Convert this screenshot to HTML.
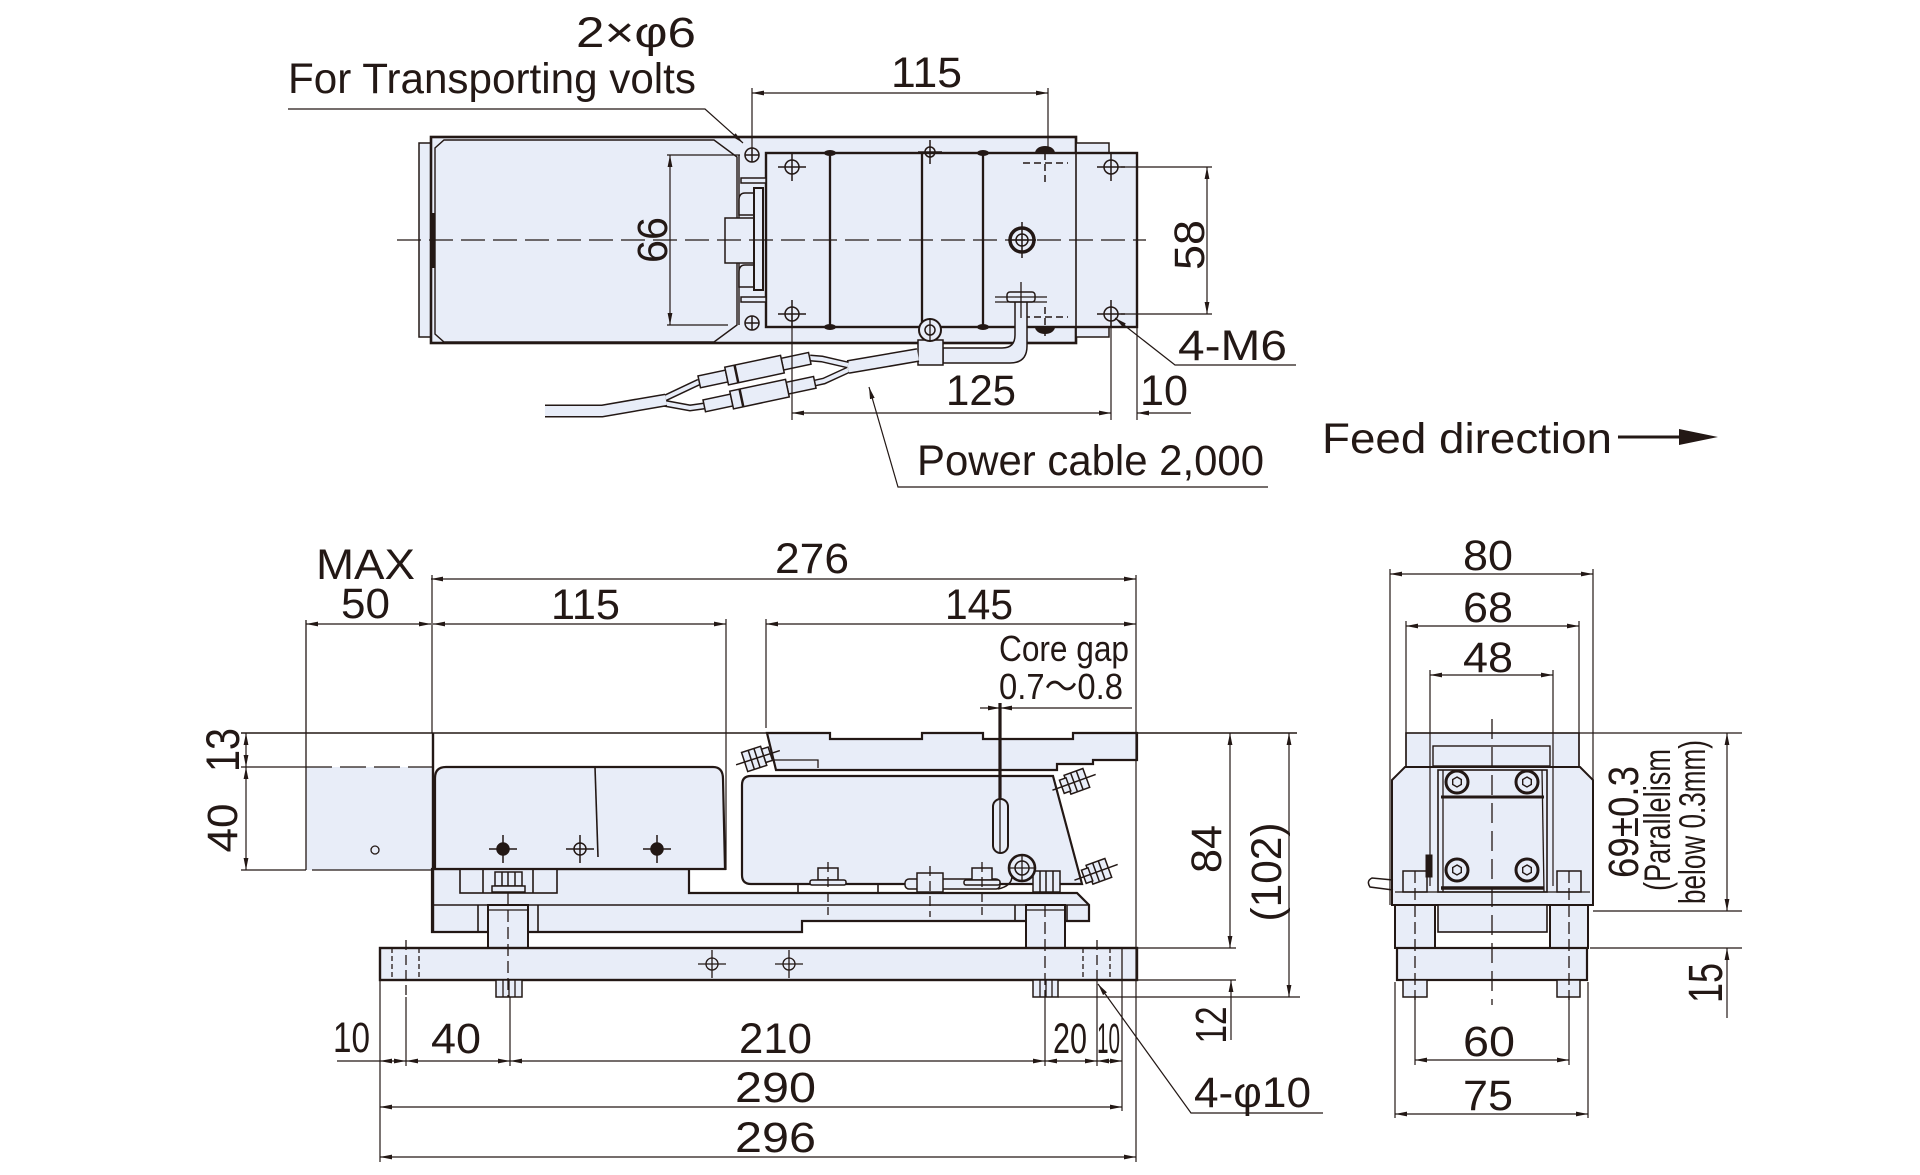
<!DOCTYPE html>
<html><head><meta charset="utf-8"><style>
html,body{margin:0;padding:0;background:#fff;}
svg{display:block;}
text{font-family:"Liberation Sans","Noto Sans CJK JP",sans-serif;fill:#231815;}
</style></head><body>
<svg width="1920" height="1175" viewBox="0 0 1920 1175" xmlns="http://www.w3.org/2000/svg">
<defs>
<marker id="a" viewBox="0 0 12 6" refX="12" refY="3" markerWidth="12" markerHeight="6" orient="auto-start-reverse" markerUnits="userSpaceOnUse"><path d="M0,0.6 L12,3 L0,5.4 Z" fill="#231815"/></marker>
</defs>
<rect width="1920" height="1175" fill="#fff"/>

<!-- ================= TOP VIEW ================= -->
<g fill="#e8edf8" stroke="#231815">
 <rect x="419" y="143" width="12" height="194" stroke-width="1.5"/>
 <rect x="431" y="137" width="645" height="206" stroke-width="2.6"/>
 <path d="M444,140 L714,140 L737,157 L737,325 L714,342 L444,342 L435,334 L435,148 Z" stroke-width="1.4"/>
 <rect x="1076" y="143" width="33" height="194" stroke-width="1.5"/>
 <rect x="766" y="153" width="371" height="174" stroke-width="2.4"/>
</g>
<g stroke="#231815" fill="none">
 <line x1="1076" y1="138" x2="1076" y2="342" stroke-width="1.6"/>
 <line x1="433" y1="213" x2="433" y2="268" stroke-width="4.5"/>
 <line x1="739" y1="155" x2="739" y2="325" stroke-width="1.4"/>
</g>
<!-- connector bits -->
<g fill="#e8edf8" stroke="#231815" stroke-width="1.5">
 <rect x="741" y="178" width="25" height="5"/>
 <rect x="741" y="297" width="25" height="5"/>
 <rect x="725" y="218" width="29" height="45"/>
 <path d="M754,193 L745,193 Q739,193 739,200 L739,215 L754,215 Z"/>
 <path d="M754,265 L745,265 Q739,265 739,272 L739,287 L754,287 Z"/>
 <rect x="754" y="188" width="9" height="102" stroke-width="2"/>
</g>
<!-- center line -->
<line x1="397" y1="240" x2="1146" y2="240" stroke="#231815" stroke-width="1.3" stroke-dasharray="24,8"/>
<!-- plate lines -->
<g stroke="#231815" stroke-width="2.3">
 <line x1="830" y1="153" x2="830" y2="327"/>
 <line x1="922" y1="153" x2="922" y2="327"/>
 <line x1="983" y1="153" x2="983" y2="327"/>
</g>
<g fill="#231815">
 <ellipse cx="830" cy="153" rx="6" ry="3"/><ellipse cx="983" cy="153" rx="6" ry="3"/>
 <ellipse cx="830" cy="327" rx="6" ry="3"/><ellipse cx="983" cy="327" rx="6" ry="3"/>
 <path d="M1035,153 A10,7 0 0 1 1055,153 Z"/>
 <path d="M1035,327 A10,7 0 0 0 1055,327 Z"/>
</g>
<!-- holes -->
<g stroke="#231815" stroke-width="1.5" fill="none">
 <circle cx="792" cy="167" r="7"/><path d="M778,167h28M792,153v28"/>
 <circle cx="1111" cy="167" r="7"/><path d="M1097,167h28M1111,153v28"/>
 <circle cx="792" cy="314" r="7"/><path d="M778,314h28M792,300v28"/>
 <circle cx="1111" cy="314" r="7"/><path d="M1097,314h28M1111,300v28"/>
 <circle cx="752" cy="155" r="7"/><path d="M745,155h14M752,148v14"/>
 <circle cx="752" cy="323" r="7"/><path d="M745,323h14M752,316v14"/>
 <circle cx="930" cy="152" r="5"/><path d="M918,152h24M930,140v24"/>
 <circle cx="1022" cy="240" r="12" stroke-width="3.5"/><circle cx="1022" cy="240" r="6"/><path d="M1022,222v36M1008,240h28"/>
 <path d="M1023,163h45M1045,153v32M1023,317h45M1045,307v33" stroke-dasharray="7,4"/>
</g>
<!-- cable -->
<g stroke="#231815" stroke-width="1.5" fill="#e8edf8">
 <path d="M943,348 L1002,348 Q1015,348 1015,335 L1015,300 L1027,300 L1027,346 Q1027,363 1010,363 L943,363 Z"/>
 <rect x="1007" y="292" width="28" height="10" rx="3"/>
 <rect x="918" y="340" width="25" height="25"/>
 <circle cx="930" cy="330" r="11" stroke-width="2"/>
 <circle cx="930" cy="330" r="5"/>
</g>
<g stroke="#231815" stroke-width="1.3" fill="none">
 <path d="M995,297h52M995,302h52M1021,282v36M930,318v24"/>
</g>
<g fill="none" stroke-linecap="butt">
 <path d="M848,367 L918,355" stroke="#231815" stroke-width="14"/>
 <path d="M848,367 L918,355" stroke="#e8edf8" stroke-width="11"/>
 <path d="M810,358 L822,359 L848,365" stroke="#231815" stroke-width="7"/>
 <path d="M815,383 L824,381 L848,370" stroke="#231815" stroke-width="7"/>
 <path d="M810,358 L822,359 L848,365" stroke="#e8edf8" stroke-width="4"/>
 <path d="M815,383 L824,381 L848,370" stroke="#e8edf8" stroke-width="4"/>
 <path d="M699,382 L663,399" stroke="#231815" stroke-width="7"/>
 <path d="M704,406 L690,408 L663,403" stroke="#231815" stroke-width="7"/>
 <path d="M699,382 L663,399" stroke="#e8edf8" stroke-width="4"/>
 <path d="M704,406 L690,408 L663,403" stroke="#e8edf8" stroke-width="4"/>
 <path d="M666,400 L602,411 L545,411" stroke="#231815" stroke-width="13"/>
 <path d="M666,400 L602,411 L545,411" stroke="#e8edf8" stroke-width="10"/>
</g>
<g transform="translate(755,370) rotate(-12)" fill="#e8edf8" stroke="#231815" stroke-width="1.5">
 <rect x="-57" y="-6" width="28" height="12"/><rect x="28" y="-6" width="28" height="12"/>
 <rect x="-29" y="-9" width="57" height="18"/><line x1="-19" y1="-9" x2="-19" y2="9" stroke-width="2.5"/>
</g>
<g transform="translate(760,394) rotate(-12)" fill="#e8edf8" stroke="#231815" stroke-width="1.5">
 <rect x="-57" y="-6" width="28" height="12"/><rect x="28" y="-6" width="28" height="12"/>
 <rect x="-29" y="-9" width="57" height="18"/><line x1="-19" y1="-9" x2="-19" y2="9" stroke-width="2.5"/>
</g>

<!-- top view dims -->
<g stroke="#231815" stroke-width="1.2" fill="none">
 <line x1="752" y1="88" x2="752" y2="148"/>
 <line x1="1048" y1="88" x2="1048" y2="150"/>
 <line x1="752" y1="93" x2="1048" y2="93" marker-start="url(#a)" marker-end="url(#a)"/>
 <polyline points="288,109 705,109 743,143" marker-end="url(#a)"/>
 <line x1="667" y1="155" x2="740" y2="155"/><line x1="667" y1="325" x2="728" y2="325"/>
 <line x1="670" y1="155" x2="670" y2="325" marker-start="url(#a)" marker-end="url(#a)"/>
 <line x1="1121" y1="167" x2="1212" y2="167"/><line x1="1121" y1="314" x2="1212" y2="314"/>
 <line x1="1207" y1="167" x2="1207" y2="314" marker-start="url(#a)" marker-end="url(#a)"/>
 <polyline points="1296,365 1175,365 1115,318" marker-end="url(#a)"/>
 <line x1="792" y1="314" x2="792" y2="420"/>
 <line x1="1111" y1="320" x2="1111" y2="420"/>
 <line x1="1137" y1="327" x2="1137" y2="420"/>
 <line x1="792" y1="413" x2="1111" y2="413" marker-start="url(#a)" marker-end="url(#a)"/>
 <line x1="1191" y1="413" x2="1137" y2="413" marker-end="url(#a)"/>
 <polyline points="1268,487 898,487 869,387" marker-end="url(#a)"/>
</g>
<line x1="1618" y1="437" x2="1684" y2="437" stroke="#231815" stroke-width="3"/>
<path d="M1679,429 L1718,437 L1679,445 Z" fill="#231815"/>

<!-- top view text -->
<g font-size="43">
 <text x="576" y="47" textLength="120" lengthAdjust="spacingAndGlyphs">2×φ6</text>
 <text x="288" y="93" textLength="408" lengthAdjust="spacingAndGlyphs">For Transporting volts</text>
 <text x="891" y="87" textLength="71" lengthAdjust="spacingAndGlyphs">115</text>
 <text transform="translate(667,240) rotate(-90)" text-anchor="middle" textLength="46" lengthAdjust="spacingAndGlyphs">66</text>
 <text transform="translate(1204,245) rotate(-90)" text-anchor="middle" textLength="50" lengthAdjust="spacingAndGlyphs">58</text>
 <text x="1178" y="360" textLength="109" lengthAdjust="spacingAndGlyphs">4-M6</text>
 <text x="946" y="405" textLength="70" lengthAdjust="spacingAndGlyphs">125</text>
 <text x="1140" y="405" textLength="48" lengthAdjust="spacingAndGlyphs">10</text>
 <text x="917" y="475" textLength="347" lengthAdjust="spacingAndGlyphs">Power cable 2,000</text>
 <text x="1322" y="453" textLength="290" lengthAdjust="spacingAndGlyphs">Feed direction</text>
</g>

<!-- ================= FRONT VIEW ================= -->
<!-- MAX 50 zone -->
<rect x="306" y="767" width="126" height="103" fill="#e8edf8"/>
<g stroke="#231815" fill="none" stroke-width="1.3">
 <line x1="241" y1="767" x2="306" y2="767"/>
 <line x1="306" y1="767" x2="432" y2="767" stroke-dasharray="26,8"/>
 <line x1="241" y1="870" x2="306" y2="870"/>
 <line x1="312" y1="870" x2="432" y2="870"/>
 <line x1="306" y1="620" x2="306" y2="870"/>
 <circle cx="375" cy="850" r="4"/>
</g>
<!-- lower frame -->
<g fill="#e8edf8" stroke="#231815" stroke-width="2.2">
 <path d="M432,869 L689,869 L689,893 L1077,893 L1089,905 L1089,921 L802,921 L802,932 L432,932 Z"/>
</g>
<g stroke="#231815" fill="none" stroke-width="1.6">
 <line x1="432" y1="905" x2="1089" y2="905"/>
 <line x1="1015" y1="905" x2="1015" y2="921"/>
 <line x1="1067" y1="905" x2="1067" y2="921"/>
 <rect x="460" y="869" width="97" height="24" fill="#e8edf8"/>
 <line x1="483" y1="869" x2="483" y2="893"/><line x1="533" y1="869" x2="533" y2="893"/>
 <line x1="478" y1="905" x2="478" y2="932"/><line x1="538" y1="905" x2="538" y2="932"/>
 <line x1="798" y1="884" x2="798" y2="893"/><line x1="878" y1="884" x2="878" y2="893"/>
</g>
<!-- hopper body -->
<path d="M435,869 L435,778 Q435,767 446,767 L713,767 Q723,767 723,779 L725,869 Z" fill="#e8edf8" stroke="#231815" stroke-width="2.2"/>
<line x1="595" y1="767" x2="598" y2="857" stroke="#231815" stroke-width="1.6"/>
<g stroke="#231815" stroke-width="1.5" fill="none">
 <circle cx="503" cy="849" r="6" fill="#231815"/><path d="M489,849h28M503,835v28"/>
 <circle cx="580" cy="849" r="6"/><path d="M566,849h28M580,835v28"/>
 <circle cx="657" cy="849" r="6" fill="#231815"/><path d="M643,849h28M657,835v28"/>
</g>
<!-- nut on left pillar -->
<g fill="#e8edf8" stroke="#231815" stroke-width="1.5">
 <rect x="495" y="872" width="27" height="14"/>
 <rect x="492" y="886" width="33" height="6"/>
 <line x1="502" y1="872" x2="502" y2="886"/><line x1="508" y1="872" x2="508" y2="886"/><line x1="515" y1="872" x2="515" y2="886"/>
</g>
<!-- trough -->
<path d="M767,733 L830,733 L830,739 L922,739 L922,733 L983,733 L983,739 L1073,739 L1073,733 L1137,733 L1137,760 L1093,760 L1093,764 L1057,764 L1057,770 L776,770 Z" fill="#e8edf8" stroke="#231815" stroke-width="2.2"/>
<path d="M773,760 L818,760 L818,768" fill="none" stroke="#231815" stroke-width="1.3"/>
<!-- driver -->
<path d="M751,776 L1053,776 L1082,884 L751,884 Q742,884 742,875 L742,785 Q742,776 751,776 Z" fill="#e8edf8" stroke="#231815" stroke-width="2.2"/>
<!-- driver details -->
<g fill="#e8edf8" stroke="#231815" stroke-width="1.5">
 <rect x="818" y="868" width="20" height="12"/><rect x="810" y="880" width="36" height="5" rx="2"/>
 <rect x="905" y="879" width="95" height="10" rx="4"/>
 <rect x="917" y="873" width="26" height="19"/>
 <rect x="972" y="868" width="20" height="12"/><rect x="964" y="880" width="36" height="5" rx="2"/>
 <rect x="1033" y="871" width="27" height="21"/>
 <line x1="1040" y1="871" x2="1040" y2="892"/><line x1="1046" y1="871" x2="1046" y2="892"/><line x1="1053" y1="871" x2="1053" y2="892"/>
 <path d="M998,889 Q1012,886 1012,876" fill="none"/>
 <circle cx="1022" cy="868" r="13" stroke-width="2.6"/>
 <circle cx="1022" cy="868" r="7"/>
 <rect x="993" y="799" width="15" height="54" rx="7.5" stroke-width="2"/>
</g>
<g stroke="#231815" fill="none" stroke-width="1.3">
 <path d="M1022,856v24M1010,868h24"/>
 <line x1="1000" y1="799" x2="1000" y2="853"/>
 <line x1="828" y1="862" x2="828" y2="915" stroke-dasharray="10,5"/>
 <line x1="982" y1="862" x2="982" y2="915" stroke-dasharray="10,5"/>
 <line x1="930" y1="866" x2="930" y2="917" stroke-dasharray="10,5"/>
</g>
<line x1="1000" y1="703" x2="1000" y2="800" stroke="#231815" stroke-width="3.2"/>
<!-- tilted bolts -->
<g transform="translate(757,758) rotate(-18)" fill="#e8edf8" stroke="#231815" stroke-width="1.5">
 <rect x="-13" y="-10" width="20" height="20"/><rect x="7" y="-7" width="7" height="14"/>
 <line x1="-6" y1="-10" x2="-6" y2="10"/><line x1="0" y1="-10" x2="0" y2="10"/>
 <line x1="-22" y1="0" x2="24" y2="0"/>
</g>
<g transform="translate(1075,782) rotate(-20)" fill="#e8edf8" stroke="#231815" stroke-width="1.5">
 <rect x="-8" y="-10" width="20" height="20"/><rect x="-14" y="-7" width="7" height="14"/>
 <line x1="-1" y1="-10" x2="-1" y2="10"/><line x1="5" y1="-10" x2="5" y2="10"/>
 <line x1="-24" y1="0" x2="22" y2="0"/>
</g>
<g transform="translate(1097,872) rotate(-20)" fill="#e8edf8" stroke="#231815" stroke-width="1.5">
 <rect x="-8" y="-10" width="20" height="20"/><rect x="-14" y="-7" width="7" height="14"/>
 <line x1="-1" y1="-10" x2="-1" y2="10"/><line x1="5" y1="-10" x2="5" y2="10"/>
 <line x1="-24" y1="0" x2="22" y2="0"/>
</g>
<!-- pillars, base plate -->
<g fill="#e8edf8" stroke="#231815" stroke-width="2">
 <rect x="488" y="905" width="40" height="43"/>
 <rect x="1026" y="905" width="39" height="43"/>
 <rect x="380" y="948" width="757" height="32" stroke-width="2.4"/>
 <rect x="496" y="980" width="26" height="17" stroke-width="1.5"/>
 <rect x="1033" y="980" width="25" height="17" stroke-width="1.5"/>
</g>
<g stroke="#231815" fill="none" stroke-width="1.3">
 <line x1="488" y1="910" x2="528" y2="910"/><line x1="1026" y1="910" x2="1065" y2="910"/>
 <line x1="1122" y1="948" x2="1122" y2="980"/>
 <line x1="392" y1="948" x2="392" y2="980" stroke-dasharray="5,3"/>
 <line x1="419" y1="948" x2="419" y2="980" stroke-dasharray="5,3"/>
 <line x1="1083" y1="948" x2="1083" y2="980" stroke-dasharray="5,3"/>
 <line x1="1110" y1="948" x2="1110" y2="980" stroke-dasharray="5,3"/>
 <line x1="406" y1="940" x2="406" y2="997" stroke-dasharray="10,5"/>
 <line x1="1097" y1="940" x2="1097" y2="980" stroke-dasharray="10,5"/>
 <line x1="508" y1="893" x2="508" y2="997" stroke-dasharray="12,5"/>
 <line x1="1045" y1="905" x2="1045" y2="997" stroke-dasharray="12,5"/>
 <circle cx="712" cy="964" r="6"/><path d="M698,964h28M712,950v28"/>
 <circle cx="789" cy="964" r="6"/><path d="M775,964h28M789,950v28"/>
 <path d="M503,980v17M509,980v17M515,980v17M1040,980v17M1046,980v17M1052,980v17"/>
</g>

<!-- front view dims -->
<g stroke="#231815" stroke-width="1.2" fill="none">
 <line x1="241" y1="733" x2="767" y2="733" stroke-width="1.6"/>
 <line x1="1137" y1="733" x2="1297" y2="733" stroke-width="1.4"/>
 <line x1="432" y1="575" x2="432" y2="733"/>
 <line x1="433" y1="733" x2="433" y2="932" stroke-width="2.4"/>
 <line x1="431" y1="579" x2="1136" y2="579" marker-start="url(#a)" marker-end="url(#a)"/>
 <line x1="306" y1="624" x2="431" y2="624" marker-start="url(#a)" marker-end="url(#a)"/>
 <line x1="433" y1="624" x2="726" y2="624" marker-start="url(#a)" marker-end="url(#a)"/>
 <line x1="766" y1="624" x2="1136" y2="624" marker-start="url(#a)" marker-end="url(#a)"/>
 <line x1="726" y1="619" x2="726" y2="870"/>
 <line x1="766" y1="619" x2="766" y2="728"/>
 <line x1="1136" y1="575" x2="1136" y2="1162"/>
 <line x1="246" y1="733" x2="246" y2="767" marker-start="url(#a)" marker-end="url(#a)"/>
 <line x1="246" y1="767" x2="246" y2="870" marker-start="url(#a)" marker-end="url(#a)"/>
 <line x1="980" y1="708" x2="1000" y2="708" marker-end="url(#a)"/>
 <line x1="1132" y1="708" x2="1000" y2="708" marker-end="url(#a)"/>
 <line x1="1230" y1="733" x2="1230" y2="948" marker-start="url(#a)" marker-end="url(#a)"/>
 <line x1="1289" y1="733" x2="1289" y2="997" marker-start="url(#a)" marker-end="url(#a)"/>
 <line x1="1231" y1="980" x2="1231" y2="1040" marker-start="url(#a)"/>
 <line x1="1065" y1="948" x2="1236" y2="948"/>
 <line x1="1137" y1="980" x2="1236" y2="980"/>
 <line x1="1058" y1="997" x2="1300" y2="997"/>
 <line x1="380" y1="980" x2="380" y2="1162"/>
 <line x1="406" y1="997" x2="406" y2="1066"/>
 <line x1="510" y1="997" x2="510" y2="1066"/>
 <line x1="1045" y1="997" x2="1045" y2="1066"/>
 <line x1="1097" y1="980" x2="1097" y2="1066"/>
 <line x1="1122" y1="980" x2="1122" y2="1111"/>
 <line x1="337" y1="1061" x2="380" y2="1061"/>
 <line x1="380" y1="1061" x2="406" y2="1061" marker-start="url(#a)" marker-end="url(#a)"/>
 <line x1="406" y1="1061" x2="510" y2="1061" marker-start="url(#a)" marker-end="url(#a)"/>
 <line x1="510" y1="1061" x2="1045" y2="1061" marker-start="url(#a)" marker-end="url(#a)"/>
 <line x1="1045" y1="1061" x2="1097" y2="1061" marker-start="url(#a)" marker-end="url(#a)"/>
 <line x1="1097" y1="1061" x2="1122" y2="1061" marker-start="url(#a)" marker-end="url(#a)"/>
 <line x1="380" y1="1107" x2="1122" y2="1107" marker-start="url(#a)" marker-end="url(#a)"/>
 <line x1="380" y1="1157" x2="1136" y2="1157" marker-start="url(#a)" marker-end="url(#a)"/>
 <polyline points="1323,1113 1191,1113 1098,984" marker-end="url(#a)"/>
</g>

<!-- front view text -->
<g font-size="43">
 <text x="316" y="579" textLength="99" lengthAdjust="spacingAndGlyphs">MAX</text>
 <text x="341" y="618" textLength="49" lengthAdjust="spacingAndGlyphs">50</text>
 <text x="775" y="573" textLength="74" lengthAdjust="spacingAndGlyphs">276</text>
 <text x="551" y="619" textLength="69" lengthAdjust="spacingAndGlyphs">115</text>
 <text x="945" y="619" textLength="68" lengthAdjust="spacingAndGlyphs">145</text>
 <text transform="translate(239,750) rotate(-90)" text-anchor="middle" font-size="47" textLength="44" lengthAdjust="spacingAndGlyphs">13</text>
 <text transform="translate(237,828) rotate(-90)" text-anchor="middle" textLength="49" lengthAdjust="spacingAndGlyphs">40</text>
 <text transform="translate(1221,849) rotate(-90)" text-anchor="middle" textLength="48" lengthAdjust="spacingAndGlyphs">84</text>
 <text transform="translate(1281,872) rotate(-90)" text-anchor="middle" textLength="99" lengthAdjust="spacingAndGlyphs">(102)</text>
 <text transform="translate(1226,1025) rotate(-90)" text-anchor="middle" font-size="44" textLength="37" lengthAdjust="spacingAndGlyphs">12</text>
 <text x="333" y="1052" textLength="37" lengthAdjust="spacingAndGlyphs">10</text>
 <text x="431" y="1053" textLength="50" lengthAdjust="spacingAndGlyphs">40</text>
 <text x="739" y="1053" textLength="73" lengthAdjust="spacingAndGlyphs">210</text>
 <text x="1053" y="1053" textLength="34" lengthAdjust="spacingAndGlyphs">20</text>
 <text x="1097" y="1053" textLength="23" lengthAdjust="spacingAndGlyphs">10</text>
 <text x="735" y="1102" textLength="81" lengthAdjust="spacingAndGlyphs">290</text>
 <text x="735" y="1152" textLength="81" lengthAdjust="spacingAndGlyphs">296</text>
 <text x="1194" y="1107" textLength="117" lengthAdjust="spacingAndGlyphs">4-φ10</text>
</g>
<g font-size="36">
 <text x="999" y="661" textLength="130" lengthAdjust="spacingAndGlyphs">Core gap</text>
 <text x="999" y="699" textLength="124" lengthAdjust="spacingAndGlyphs">0.7〜0.8</text>
</g>

<!-- ================= RIGHT VIEW ================= -->
<g fill="#e8edf8" stroke="#231815" stroke-width="2">
 <rect x="1406" y="733" width="173" height="34" stroke-width="1.6"/>
 <rect x="1433" y="746" width="117" height="20" stroke-width="1.4"/>
 <path d="M1392,780 L1405,767 L1580,767 L1593,780 L1593,905 L1392,905 Z"/>
 <rect x="1438" y="770" width="109" height="122" stroke-width="1.6"/>
 <rect x="1395" y="905" width="40" height="43"/>
 <rect x="1550" y="905" width="38" height="43"/>
 <rect x="1438" y="905" width="109" height="27" stroke-width="1.6"/>
 <rect x="1397" y="948" width="190" height="32" stroke-width="2.2"/>
 <rect x="1403" y="980" width="24" height="17" stroke-width="1.5"/>
 <rect x="1557" y="980" width="23" height="17" stroke-width="1.5"/>
 <rect x="1403" y="871" width="24" height="21" stroke-width="1.5"/>
 <rect x="1557" y="871" width="24" height="21" stroke-width="1.5"/>
</g>
<g stroke="#231815" fill="none">
 <line x1="1441" y1="797" x2="1544" y2="797" stroke-width="3"/>
 <line x1="1441" y1="888" x2="1544" y2="888" stroke-width="3.5"/>
 <line x1="1443" y1="770" x2="1443" y2="892" stroke-width="1.3"/>
 <line x1="1542" y1="770" x2="1544" y2="892" stroke-width="1.3"/>
 <line x1="1395" y1="892" x2="1590" y2="892" stroke-width="1.3"/>
 <path d="M1393,880 L1372,878 Q1366,881 1370,887 L1393,890" stroke-width="1.5"/>
 <rect x="1426" y="855" width="6" height="22" fill="#231815" stroke-width="1"/>
</g>
<g fill="#e8edf8" stroke="#231815" stroke-width="3">
 <circle cx="1457" cy="782" r="11"/><circle cx="1527" cy="782" r="11"/>
 <circle cx="1457" cy="870" r="11"/><circle cx="1527" cy="870" r="11"/>
</g>
<g fill="none" stroke="#231815" stroke-width="1.4">
 <path d="M1457,777 l4.3,2.5 v5 l-4.3,2.5 l-4.3,-2.5 v-5 Z"/>
 <path d="M1527,777 l4.3,2.5 v5 l-4.3,2.5 l-4.3,-2.5 v-5 Z"/>
 <path d="M1457,865 l4.3,2.5 v5 l-4.3,2.5 l-4.3,-2.5 v-5 Z"/>
 <path d="M1527,865 l4.3,2.5 v5 l-4.3,2.5 l-4.3,-2.5 v-5 Z"/>
 <line x1="1492" y1="719" x2="1492" y2="1005" stroke-width="1.3" stroke-dasharray="20,8"/>
 <line x1="1415" y1="871" x2="1415" y2="1000" stroke-width="1.3" stroke-dasharray="12,5"/>
 <line x1="1569" y1="871" x2="1569" y2="1000" stroke-width="1.3" stroke-dasharray="12,5"/>
</g>
<!-- right view dims -->
<g stroke="#231815" stroke-width="1.2" fill="none">
 <line x1="1390" y1="569" x2="1390" y2="905"/>
 <line x1="1593" y1="569" x2="1593" y2="905"/>
 <line x1="1390" y1="574" x2="1593" y2="574" marker-start="url(#a)" marker-end="url(#a)"/>
 <line x1="1406" y1="621" x2="1406" y2="767"/>
 <line x1="1579" y1="621" x2="1579" y2="767"/>
 <line x1="1406" y1="626" x2="1579" y2="626" marker-start="url(#a)" marker-end="url(#a)"/>
 <line x1="1430" y1="670" x2="1430" y2="886"/>
 <line x1="1553" y1="670" x2="1553" y2="886"/>
 <line x1="1430" y1="675" x2="1553" y2="675" marker-start="url(#a)" marker-end="url(#a)"/>
 <line x1="1415" y1="997" x2="1415" y2="1065"/>
 <line x1="1569" y1="997" x2="1569" y2="1065"/>
 <line x1="1415" y1="1060" x2="1569" y2="1060" marker-start="url(#a)" marker-end="url(#a)"/>
 <line x1="1395" y1="982" x2="1395" y2="1118"/>
 <line x1="1588" y1="982" x2="1588" y2="1118"/>
 <line x1="1395" y1="1114" x2="1588" y2="1114" marker-start="url(#a)" marker-end="url(#a)"/>
 <line x1="1579" y1="733" x2="1742" y2="733"/>
 <line x1="1593" y1="911" x2="1742" y2="911"/>
 <line x1="1590" y1="948" x2="1742" y2="948"/>
 <line x1="1727" y1="733" x2="1727" y2="911" marker-start="url(#a)" marker-end="url(#a)"/>
 <line x1="1727" y1="948" x2="1727" y2="1018" marker-start="url(#a)"/>
</g>
<g font-size="43">
 <text x="1463" y="570" textLength="50" lengthAdjust="spacingAndGlyphs">80</text>
 <text x="1463" y="622" textLength="50" lengthAdjust="spacingAndGlyphs">68</text>
 <text x="1463" y="672" textLength="50" lengthAdjust="spacingAndGlyphs">48</text>
 <text x="1463" y="1056" textLength="52" lengthAdjust="spacingAndGlyphs">60</text>
 <text x="1463" y="1110" textLength="50" lengthAdjust="spacingAndGlyphs">75</text>
 <text transform="translate(1638,822) rotate(-90)" text-anchor="middle" textLength="112" lengthAdjust="spacingAndGlyphs">69±0.3</text>
 <text transform="translate(1722,983) rotate(-90)" text-anchor="middle" font-size="48" textLength="40" lengthAdjust="spacingAndGlyphs">15</text>
</g>
<g font-size="37">
 <text transform="translate(1670,820) rotate(-90)" text-anchor="middle" textLength="142" lengthAdjust="spacingAndGlyphs">(Parallelism</text>
 <text transform="translate(1705,822) rotate(-90)" text-anchor="middle" textLength="164" lengthAdjust="spacingAndGlyphs">below 0.3mm)</text>
</g>
</svg>
</body></html>
